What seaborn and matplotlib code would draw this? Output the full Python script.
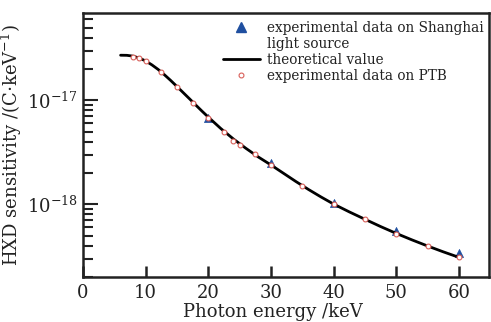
import numpy as np
import pandas as pd
import matplotlib
matplotlib.use("Agg")
import matplotlib.pyplot as plt
import seaborn as sns
from matplotlib.lines import Line2D

# ---- data ----
sh_energy = [20, 30, 40, 50, 60]
sh_sens = [6.7e-18, 2.49e-18, 1.03e-18, 5.5e-19, 3.4e-19]

ptb_energy = [8, 9, 10, 12.5, 15, 17.5, 20, 22.5, 24, 25, 27.5, 30, 35, 40, 45, 50, 55, 60]
ptb_sens = [2.61e-17, 2.55e-17, 2.39e-17, 1.87e-17, 1.34e-17, 9.5e-18, 6.8e-18, 4.96e-18,
            4.04e-18, 3.69e-18, 3.03e-18, 2.37e-18, 1.50e-18, 1.0e-18, 7.2e-19, 5.2e-19,
            3.98e-19, 3.1e-19]

theo_energy = [6, 7, 8, 9, 10, 11, 12, 13, 14, 15, 16, 17, 18, 19, 20, 22, 24, 26, 28, 30,
               32, 34, 36, 38, 40, 42.5, 45, 47.5, 50, 52.5, 55, 57.5, 60]
theo_log = [0.433, 0.432, 0.424, 0.405, 0.378, 0.340, 0.296, 0.245, 0.190, 0.132, 0.073,
            0.014, -0.046, -0.105, -0.162, -0.272, -0.372, -0.462, -0.546, -0.622,
            -0.702, -0.782, -0.858, -0.930, -0.998, -1.073, -1.144, -1.214, -1.280,
            -1.342, -1.401, -1.457, -1.510]
theo_sens = [1e-17 * 10 ** v for v in theo_log]

xticks = [0, 10, 20, 30, 40, 50, 60]

sns.set_theme(style="white")
plt.rcParams['font.family'] = ['DejaVu Serif']
plt.rcParams['mathtext.fontset'] = 'dejavuserif'

fig = plt.figure(figsize=(4.91, 3.22), dpi=100)
ax = fig.add_axes([83/491, 45/322, 406/491, 264/322])

df_sh = pd.DataFrame({"E": sh_energy, "S": sh_sens})
df_ptb = pd.DataFrame({"E": ptb_energy, "S": ptb_sens})
df_th = pd.DataFrame({"E": theo_energy, "S": theo_sens})

sns.scatterplot(data=df_sh, x="E", y="S", ax=ax, marker="^", s=34,
                color="#1f4fa0", edgecolor="#1f4fa0", linewidth=0.5, zorder=2)
sns.lineplot(data=df_th, x="E", y="S", ax=ax, color="black", linewidth=2.0, zorder=3)
sns.scatterplot(data=df_ptb, x="E", y="S", ax=ax, marker="o", s=12,
                facecolor="white", edgecolor="#d9605a", linewidth=0.8, zorder=4)

ax.set_yscale("log")
ax.set_xlim(0, 64.8)
ax.set_ylim(2.0e-19, 6.9e-17)
ax.set_xticks(xticks)
ax.set_xticklabels([str(t) for t in xticks])
ax.set_yticks([1e-18, 1e-17])
ax.set_yticklabels([r"$10^{-18}$", r"$10^{-17}$"])
ax.yaxis.set_minor_locator(matplotlib.ticker.LogLocator(base=10, subs=np.arange(2, 10)))
ax.yaxis.set_minor_formatter(matplotlib.ticker.NullFormatter())

for s in ax.spines.values():
    s.set_linewidth(1.8)
    s.set_color("#222222")

ax.tick_params(axis="x", which="major", direction="in", length=8, width=1.8,
               labelsize=13, pad=5, colors="#222222", bottom=True, top=False)
ax.tick_params(axis="y", which="major", direction="in", length=11, width=1.5,
               labelsize=13, pad=4, colors="#222222", left=True, right=False)
ax.tick_params(axis="y", which="minor", direction="in", length=7, width=1.5,
               left=True, right=False, colors="#222222")
ax.tick_params(axis="x", which="minor", bottom=False, top=False)

ax.set_xlabel("Photon energy /keV", fontsize=13, labelpad=1, color="#222222")
ax.xaxis.label.set_x(0.467)
ax.set_ylabel(r"HXD sensitivity /(C$\cdot$keV$^{-1}$)", fontsize=13, labelpad=2, color="#222222")

handles = [
    Line2D([], [], marker="^", color="#1f4fa0", linestyle="none", markersize=6.5),
    Line2D([], [], linestyle="none"),
    Line2D([], [], color="black", linewidth=2.0),
    Line2D([], [], marker="o", color="#d9605a", markerfacecolor="white",
           linestyle="none", markersize=3.5, markeredgewidth=0.8),
]
labels = ["experimental data on Shanghai", "light source", "theoretical value",
          "experimental data on PTB"]
leg = ax.legend(handles, labels, loc="upper left", bbox_to_anchor=(223/491, 1 - 21/322),
                bbox_transform=fig.transFigure, frameon=False, fontsize=9.8,
                handlelength=2.7, handletextpad=0.5, labelspacing=0.14,
                borderpad=0, borderaxespad=0)
for t in leg.get_texts():
    t.set_color("#222222")

fig.savefig("out.png", dpi=100)
